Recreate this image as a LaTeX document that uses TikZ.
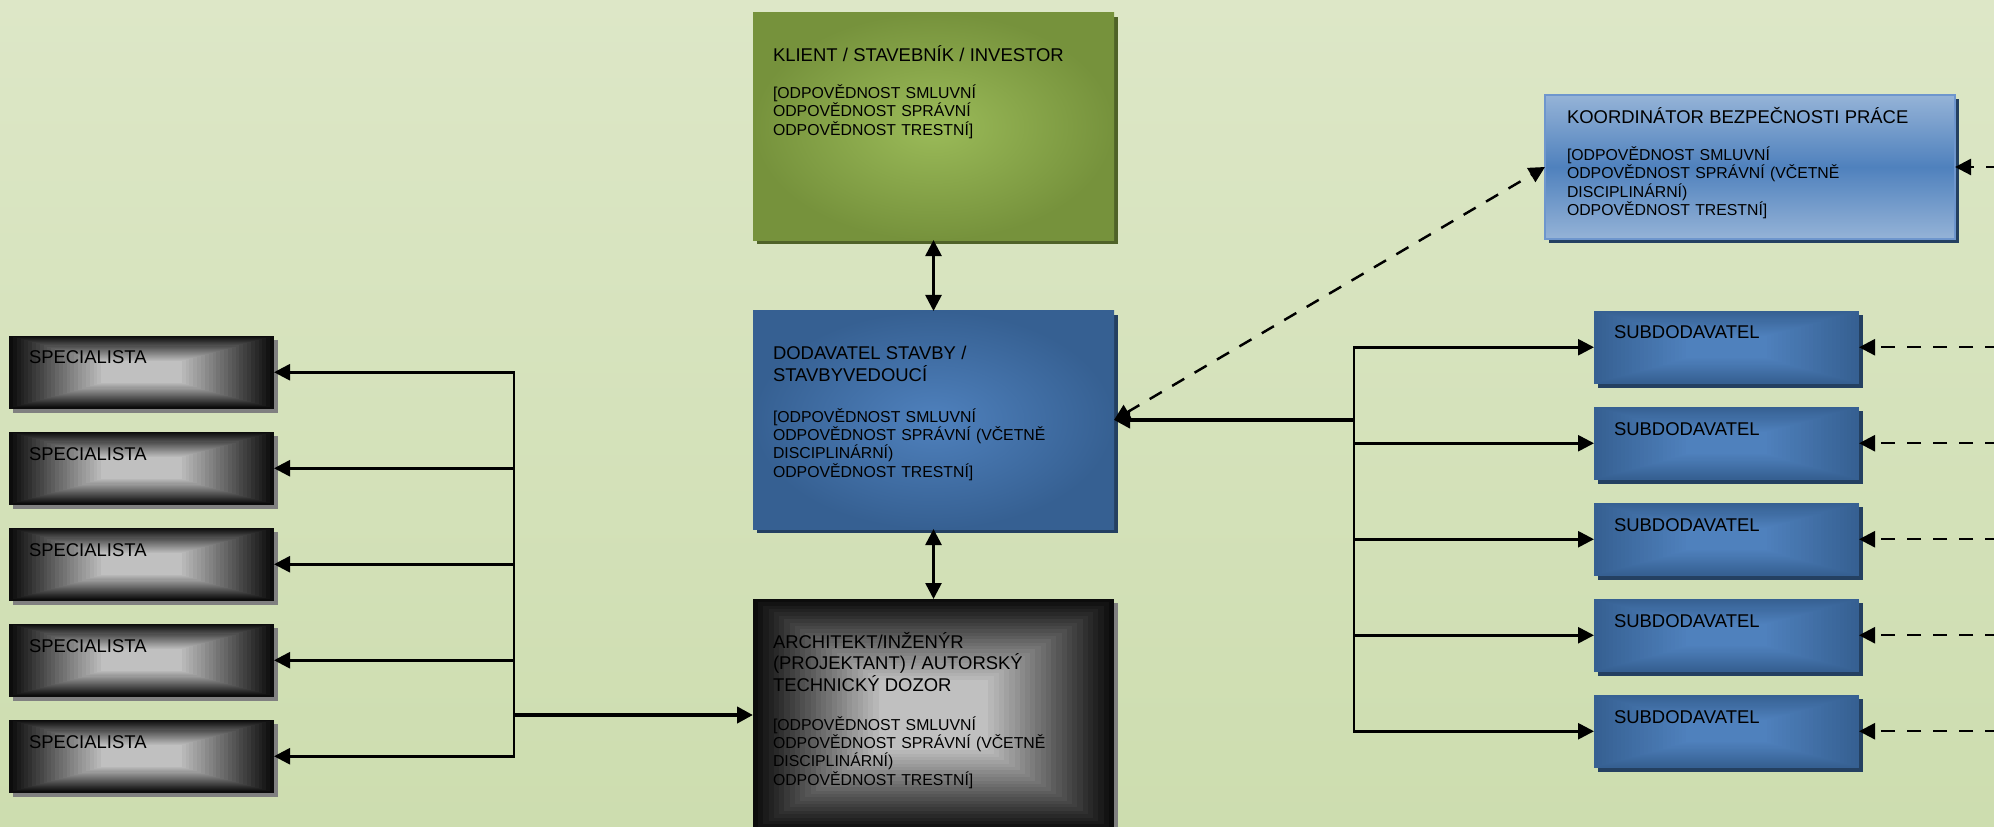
\documentclass[tikz,border=0pt]{standalone}
\usepackage{fontspec}
\setmainfont{Liberation Sans}
\usetikzlibrary{arrows.meta,calc,shadows}

\definecolor{bgtop}{RGB}{221,231,199}
\definecolor{bgbot}{RGB}{205,221,175}
\definecolor{oliveout}{RGB}{118,146,60}
\definecolor{olivein}{RGB}{155,187,89}
\definecolor{oliveshadow}{RGB}{79,98,40}
\definecolor{blueout}{RGB}{54,96,146}
\definecolor{bluein}{RGB}{79,129,189}
\definecolor{blueshadow}{RGB}{36,64,97}
\definecolor{lightblue}{RGB}{149,179,215}
\definecolor{lightborder}{RGB}{110,150,205}
\definecolor{grayout}{RGB}{12,12,12}
\definecolor{grayin}{RGB}{192,192,192}
\definecolor{grayshadow}{RGB}{128,128,128}

\newcommand{\boxtitle}{\fontsize{10.5pt}{12.5pt}\selectfont}
\newcommand{\boxbody}{\fontsize{9pt}{10.4pt}\selectfont}

\begin{document}
\begin{tikzpicture}[x=0.2mm, y=-0.2mm, >={Triangle[length=3.2mm,width=3.2mm]},
  card/.style={rectangle, anchor=north west, outer sep=0pt, inner ysep=0pt,
    inner xsep=4mm, align=left, font=\boxbody},
  bigcard/.style={card, text width=64.2mm, text height=9.8mm, text depth=#1},
  smallcard/.style={card, font=\boxtitle, text width=45mm, text height=5.6mm, text depth=8.9mm},
  rectshade/.style 2 args={path picture={
    \foreach \k in {0,...,24}{
      \pgfmathtruncatemacro\mix{100*\k/24}
      \fill[#2!\mix!#1]
        ($(path picture bounding box.north west)!0.029*\k!(path picture bounding box.center)$) rectangle
        ($(path picture bounding box.south east)!0.029*\k!(path picture bounding box.center)$);
    }}},
  shadowed/.style={drop shadow={shadow xshift=0.7mm, shadow yshift=-0.8mm, opacity=1, fill=#1}},
  specialist/.style={smallcard, rectshade={grayout}{grayin}, shadowed=grayshadow},
  subcontractor/.style={smallcard, rectshade={blueout}{bluein}, shadowed=blueshadow},
  link/.style={line width=1.5pt},
  mainlink/.style={line width=2.3pt},
  dashlink/.style={line width=1.4pt, dash pattern=on 2.8mm off 2.4mm}]

\useasboundingbox (0,0) rectangle (1994,827);
\clip (0,0) rectangle (1994,827);
\shade[top color=bgtop, bottom color=bgbot] (0,0) rectangle (1994,827);

% middle column
\node[bigcard=35.6mm, inner color=olivein, outer color=oliveout, shadowed=oliveshadow] (klient) at (753,13)
  {{\boxtitle KLIENT / STAVEBNÍK / INVESTOR\par}\vspace{10.4pt}
   [ODPOVĚDNOST SMLUVNÍ\\ODPOVĚDNOST SPRÁVNÍ\\ODPOVĚDNOST TRESTNÍ]};
\node[bigcard=33.8mm, inner color=bluein, outer color=blueout, shadowed=blueshadow] (dodavatel) at (753,311)
  {{\boxtitle DODAVATEL STAVBY /\\STAVBYVEDOUCÍ\par}\vspace{12.5pt}
   [ODPOVĚDNOST SMLUVNÍ\\ODPOVĚDNOST SPRÁVNÍ (VČETNĚ\\DISCIPLINÁRNÍ)\\ODPOVĚDNOST TRESTNÍ]};
\node[bigcard=36.6mm, rectshade={grayout}{grayin}, shadowed=grayshadow] (architekt) at (753,599)
  {{\boxtitle ARCHITEKT/INŽENÝR\\(PROJEKTANT) / AUTORSKÝ\\TECHNICKÝ DOZOR\par}\vspace{11.5pt}
   [ODPOVĚDNOST SMLUVNÍ\\ODPOVĚDNOST SPRÁVNÍ (VČETNĚ\\DISCIPLINÁRNÍ)\\ODPOVĚDNOST TRESTNÍ]};

% right column
\node[card, text width=73.2mm, inner xsep=4.4mm, text height=5.8mm, text depth=23mm,
  top color=lightblue, bottom color=lightblue, middle color=bluein,
  draw=lightborder, line width=1pt, shadowed=blueshadow] (koord) at (1545,95)
  {{\boxtitle KOORDINÁTOR BEZPEČNOSTI PRÁCE\par}\vspace{10.4pt}
   [ODPOVĚDNOST SMLUVNÍ\\ODPOVĚDNOST SPRÁVNÍ (VČETNĚ\\DISCIPLINÁRNÍ)\\ODPOVĚDNOST TRESTNÍ]};

\node[subcontractor] (sd1) at (1594,311) {SUBDODAVATEL};
\node[subcontractor] (sd2) at (1594,407) {SUBDODAVATEL};
\node[subcontractor] (sd3) at (1594,503) {SUBDODAVATEL};
\node[subcontractor] (sd4) at (1594,599) {SUBDODAVATEL};
\node[subcontractor] (sd5) at (1594,695) {SUBDODAVATEL};

% left column
\node[specialist] (sp1) at (9,336) {SPECIALISTA};
\node[specialist] (sp2) at (9,432) {SPECIALISTA};
\node[specialist] (sp3) at (9,528) {SPECIALISTA};
\node[specialist] (sp4) at (9,624) {SPECIALISTA};
\node[specialist] (sp5) at (9,720) {SPECIALISTA};

\coordinate (rbus) at ($(dodavatel.east)+(240,0)$);
\coordinate (lbus) at ($(architekt.west)+(-239,0)$);
\coordinate (koord-in) at ($(koord.east)+(45,0)$);
\coordinate (sd1-in) at ($(sd1.east)+(140,0)$);
\coordinate (sd2-in) at ($(sd2.east)+(140,0)$);
\coordinate (sd3-in) at ($(sd3.east)+(140,0)$);
\coordinate (sd4-in) at ($(sd4.east)+(140,0)$);
\coordinate (sd5-in) at ($(sd5.east)+(140,0)$);

\draw[link, <->] (klient.south) -- (dodavatel.north);
\draw[link, <->] (dodavatel.south) -- (architekt.north);
\draw[dashlink, <->] (dodavatel.east) -- (koord.west);

\draw[mainlink, ->] (rbus) -- (dodavatel.east);
\draw[link, ->] (rbus) |- (sd1.west);
\draw[link, ->] (rbus) |- (sd2.west);
\draw[link, ->] (rbus) |- (sd3.west);
\draw[link, ->] (rbus) |- (sd4.west);
\draw[link, ->] (rbus) |- (sd5.west);

\draw[mainlink, ->] (lbus) -- (architekt.west);
\draw[link, ->] (lbus) |- (sp1.east);
\draw[link, ->] (lbus) |- (sp2.east);
\draw[link, ->] (lbus) |- (sp3.east);
\draw[link, ->] (lbus) |- (sp4.east);
\draw[link, ->] (lbus) |- (sp5.east);

\draw[dashlink, ->] (koord-in) -- (koord.east);
\draw[dashlink, ->] (sd1-in) -- (sd1.east);
\draw[dashlink, ->] (sd2-in) -- (sd2.east);
\draw[dashlink, ->] (sd3-in) -- (sd3.east);
\draw[dashlink, ->] (sd4-in) -- (sd4.east);
\draw[dashlink, ->] (sd5-in) -- (sd5.east);
\end{tikzpicture}
\end{document}
